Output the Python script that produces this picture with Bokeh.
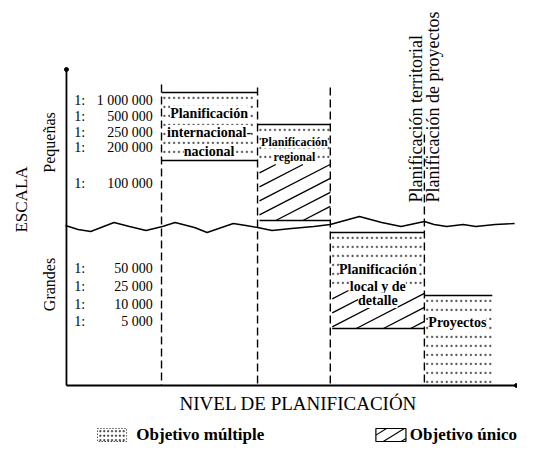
import numpy as np
from bokeh.plotting import figure
from bokeh.models import Range1d, ColumnDataSource
from bokeh.core.properties import value
from bokeh.embed import file_html
from bokeh.resources import INLINE

# ---------------- data (diagram coordinates) ----------------
scale_numbers = ["1 000 000", "500 000", "250 000", "200 000", "100 000",
                 "50 000", "25 000", "10 000", "5 000"]
scale_rows = [106, 122, 138, 153, 189, 274, 292, 310, 327]

level_edges = [166, 265, 340, 437]
level_tops = [90, 93, 93, 140]

# multi-objective (dotted) zones
multi_left = [166, 265, 340, 437]
multi_right = [265, 340, 437, 507]
multi_top = [98, 130, 238, 301]
multi_bottom = [166, 170, 296, 391]

# single-objective (hatched) zones
single_left = [267, 342]
single_right = [340, 437]
single_top = [170, 296]
single_bottom = [226, 334]

zone_text = ["Planificación", "internacional-", "nacional",
             "Planificación", "regional",
             "Planificación", "local y de", "detalle",
             "Proyectos"]
zone_text_x = [215, 215, 215, 303, 303, 389, 389, 389, 471]
zone_text_y = [119, 138, 157, 147, 162, 275, 292, 306, 328]
zone_text_size = ["14px", "14px", "14px", "12px", "12px", "14px", "14px", "14px", "14px"]

wave_x = [67, 80, 93, 117, 133, 150, 167, 180, 200, 213, 240, 253, 265, 280, 300,
          323, 340, 370, 393, 413, 437, 447, 460, 477, 490, 510, 530]
wave_y = [231, 235, 237, 228, 232, 236, 232, 228, 233, 238, 229, 231, 233, 236, 234,
          232, 230, 222, 228, 232, 227, 230, 232, 230, 232, 230, 229]

top_labels = ["Planificación territorial", "Planificación de proyectos"]
top_labels_x = [428, 446]

legend_labels = ["Objetivo múltiple", "Objetivo único"]

SERIF = value("Liberation Serif")

p = figure(width=517, height=445, x_range=Range1d(0, 533), y_range=Range1d(451, 6),
           output_backend="svg", toolbar_location=None, min_border=0)
p.axis.visible = False
p.grid.visible = False
p.outline_line_color = None
p.background_fill_color = "white"


def dot_texture(l, r, t, b, dx=5.0, dy=9.0):
    xs, ys = [], []
    for yy in np.arange(t + dy * 0.6, b - 1, dy):
        for xx in np.arange(l + 3, r - 1, dx):
            xs.append(xx); ys.append(yy)
    return xs, ys


# dotted zones (multiple objective)
for l, r, t, b in zip(multi_left, multi_right, multi_top, multi_bottom):
    xs, ys = dot_texture(l, r, t, b)
    p.scatter(xs, ys, size=1.4, color="black", alpha=0.45, marker="square")

# zone outlines
p.segment(x0=multi_left, x1=multi_right, y0=multi_top, y1=multi_top,
          line_color="black", line_width=1.6)
p.segment(x0=[multi_left[0]], x1=[multi_right[0]], y0=[multi_bottom[0]], y1=[multi_bottom[0]],
          line_color="black", line_width=1.6)
p.segment(x0=single_left, x1=single_right, y0=single_bottom, y1=single_bottom,
          line_color="black", line_width=1.4)


def hatch(x0, x1, y0, y1, k=0.5, s=14.0):
    a0, b0, a1, b1 = [], [], [], []
    c = y0 + s * 0.6
    cmax = y1 + k * (x1 - x0)
    while c < cmax:
        xa = max(x0, x0 + (c - y1) / k)
        xb = min(x1, x0 + (c - y0) / k)
        if xa < xb:
            a0.append(xa); b0.append(c - k * (xa - x0))
            a1.append(xb); b1.append(c - k * (xb - x0))
        c += s
    return a0, b0, a1, b1


# hatched zones (single objective)
for l, r, t, b in zip(single_left, single_right, single_top, single_bottom):
    a0, b0, a1, b1 = hatch(l, r, t, b)
    p.segment(x0=a0, y0=b0, x1=a1, y1=b1, line_color="black", line_width=1.3)

# level separators
p.segment(x0=level_edges, x1=level_edges, y0=level_tops, y1=[391] * 4,
          line_color="black", line_width=1.4, line_dash="8 4")

# axes
p.line([68, 68], [75, 391], line_color="black", line_width=1.8)
p.line([68, 532], [391, 391], line_color="black", line_width=1.8)
p.scatter([68, 532], [75, 391], size=4, color="black")

# scale break
p.line(wave_x, wave_y, line_color="black", line_width=1.4)

# scale labels
p.text(x=[76] * len(scale_rows), y=scale_rows, text=["1:"] * len(scale_rows),
       text_font=SERIF, text_font_size="14px", text_align="left",
       text_baseline="middle", text_color="black")
p.text(x=[157] * len(scale_rows), y=scale_rows, text=scale_numbers,
       text_font=SERIF, text_font_size="14px", text_align="right",
       text_baseline="middle", text_color="black")

# zone labels
src = ColumnDataSource(dict(x=zone_text_x, y=zone_text_y, t=zone_text, s=zone_text_size))
p.text(x="x", y="y", text="t", source=src, text_font=SERIF, text_font_size="s",
       text_font_style="bold", text_align="center", text_baseline="middle",
       text_color="black", background_fill_color="white")

# axis titles
p.text(x=[22], y=[205], text=["ESCALA"], angle=np.pi / 2, text_font=SERIF,
       text_font_size="17px", text_align="center", text_baseline="middle")
p.text(x=[51, 51], y=[148, 290], text=["Pequeñas", "Grandes"], angle=np.pi / 2,
       text_font=SERIF, text_font_size="16px", text_align="center", text_baseline="middle")
p.text(x=[307], y=[409], text=["NIVEL DE PLANIFICACIÓN"], text_font=SERIF,
       text_font_size="19px", text_align="center", text_baseline="middle")
p.text(x=top_labels_x, y=[208, 208], text=top_labels, angle=np.pi / 2,
       text_font=SERIF, text_font_size="18px", text_align="left", text_baseline="middle")

# legend
lx, ly = dot_texture(100, 130, 434, 447, dx=4.0, dy=4.5)
p.scatter(lx, ly, size=1.3, color="black", alpha=0.5, marker="square")
p.quad(left=[100], right=[130], top=[434], bottom=[447], fill_alpha=0,
       line_color="black", line_width=1, line_dash="1 2")
p.quad(left=[387], right=[418], top=[434], bottom=[447], fill_alpha=0,
       line_color="black", line_width=1.2)
a0, b0, a1, b1 = hatch(387, 418, 434, 447, k=0.6, s=11)
p.segment(x0=a0, y0=b0, x1=a1, y1=b1, line_color="black", line_width=1.1)
p.text(x=[140, 422], y=[440, 440], text=legend_labels, text_font=SERIF,
       text_font_size="17px", text_font_style="bold", text_align="left",
       text_baseline="middle")

open("out.html", "w").write(file_html(p, INLINE))
